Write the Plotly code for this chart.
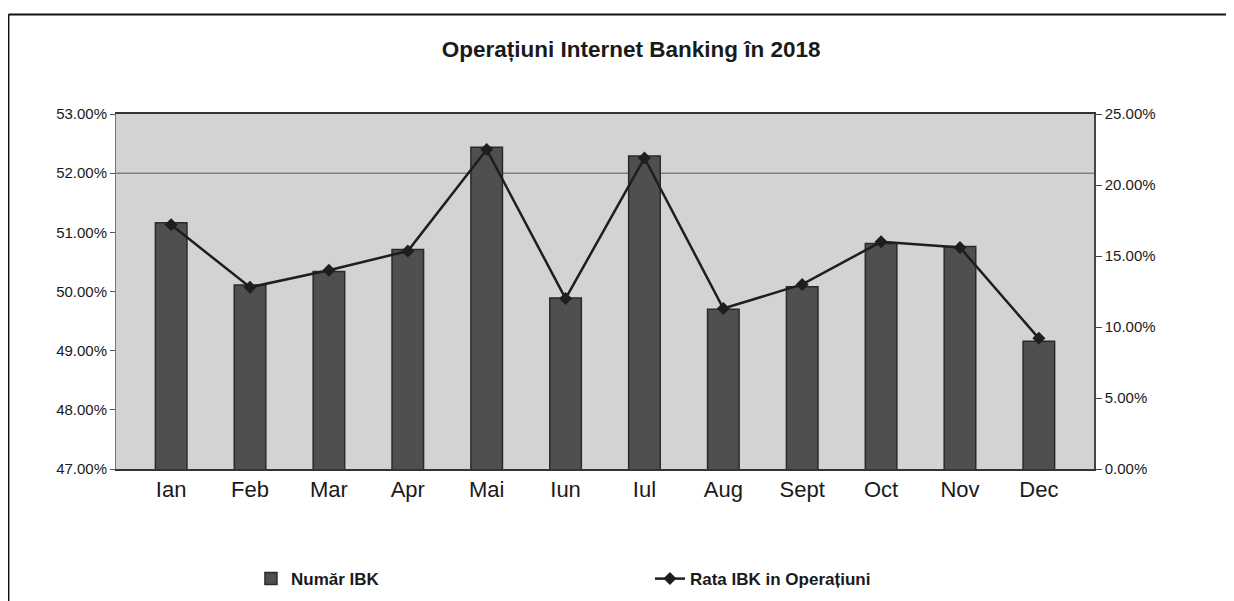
import plotly.graph_objects as go

months = ["Ian", "Feb", "Mar", "Apr", "Mai", "Iun", "Iul", "Aug", "Sept", "Oct", "Nov", "Dec"]
numar_ibk = [51.16, 50.11, 50.34, 50.71, 52.44, 49.89, 52.29, 49.70, 50.08, 50.81, 50.76, 49.16]
rata_ibk = [17.2, 12.8, 14.0, 15.35, 22.5, 12.0, 21.9, 11.3, 13.0, 16.0, 15.6, 9.2]
left_ticks = [47, 48, 49, 50, 51, 52, 53]
right_ticks = [0, 5, 10, 15, 20, 25]

FONT = "Liberation Sans, Arial, sans-serif"

fig = go.Figure()
fig.add_trace(go.Bar(
    x=months, y=numar_ibk, name="Număr IBK", yaxis="y",
    marker=dict(color="#4d504f", line=dict(color="#2a2a2a", width=1.5)),
))
fig.add_trace(go.Scatter(
    x=months, y=rata_ibk, name="Rata IBK in Operațiuni", yaxis="y2",
    mode="lines+markers",
    line=dict(color="#1e1e1e", width=2.5),
    marker=dict(symbol="diamond", size=10, color="#1e1e1e"),
))

fig.update_layout(
    width=1234, height=601,
    margin=dict(l=108, r=148, t=106, b=131),
    paper_bgcolor="white",
    plot_bgcolor="#d3d3d6",
    bargap=0.6,
    title=dict(text="<b>Operațiuni Internet Banking în 2018</b>",
               x=0.505, xanchor="center", y=0.932, yanchor="middle",
               font=dict(family=FONT, size=22.5, color="#1a1a1a")),
    xaxis=dict(showgrid=False, showline=True, linecolor="#333", linewidth=1.5,
               mirror=True, ticks="",
               tickfont=dict(family=FONT, size=22, color="#1a1a1a")),
    yaxis=dict(range=[47, 53], tickmode="array", tickvals=left_ticks,
               ticktext=[f"{v:.2f}%" for v in left_ticks],
               showgrid=False, zeroline=False, showline=True, linecolor="#777", linewidth=1,
               ticks="outside", ticklen=5, tickcolor="#555",
               tickfont=dict(family=FONT, size=15, color="#1a1a1a")),
    yaxis2=dict(range=[0, 25], tickmode="array", tickvals=right_ticks,
                ticktext=[f"{v:.2f}%" for v in right_ticks],
                overlaying="y", side="right", showgrid=False, zeroline=False,
                showline=True, linecolor="#444", linewidth=1.5,
                ticks="outside", ticklen=6, tickcolor="#444",
                tickfont=dict(family=FONT, size=15, color="#1a1a1a")),
    legend=dict(orientation="h", x=0.138, xanchor="left", y=-0.31, yanchor="middle",
                entrywidth=354, font=dict(family=FONT, size=17, color="#1a1a1a", weight="bold"),
                bgcolor="rgba(0,0,0,0)"),
    showlegend=True,
)

fig.add_shape(type="line", xref="paper", yref="y", x0=0, x1=1, y0=52, y1=52,
              line=dict(color="#555", width=1), layer="below")
# outer chart frame
fig.add_shape(type="line", xref="paper", yref="paper", x0=-0.11, x1=1.16, y0=1.28, y1=1.28,
              line=dict(color="#111", width=2))
fig.add_shape(type="line", xref="paper", yref="paper", x0=-0.11, x1=-0.11, y0=1.28, y1=-0.4,
              line=dict(color="#111", width=2))

fig.write_html("out.html")
